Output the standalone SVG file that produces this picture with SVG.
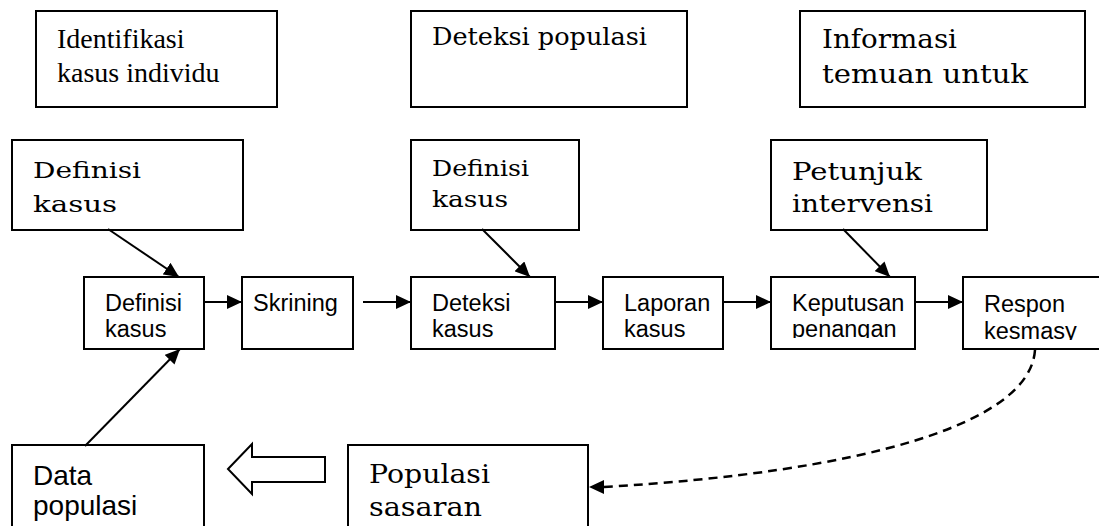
<svg xmlns="http://www.w3.org/2000/svg" width="1099" height="526" viewBox="0 0 1099 526">
  <style>
    .box { fill: #fff; stroke: #000; stroke-width: 2; }
    .serif { font-family: "DejaVu Serif", "Liberation Serif", serif; fill: #000; }
    .times { font-family: "Liberation Serif", "Times New Roman", serif; font-size: 28px; fill: #000; }
    .sans { font-family: "Liberation Sans", Arial, sans-serif; font-size: 23.5px; fill: #000; }
    .big { font-family: "Liberation Sans", Arial, sans-serif; font-size: 28px; fill: #000; }
    .link { fill: none; stroke: #000; stroke-width: 2; }
    .dash { fill: none; stroke: #000; stroke-width: 2.5; stroke-dasharray: 9 6; }
  </style>
  <defs>
    <marker id="head" viewBox="0 0 15 14" refX="15" refY="7" markerWidth="15" markerHeight="14" markerUnits="userSpaceOnUse" orient="auto">
      <path d="M0,0 L15,7 L0,14 Z" fill="#000"/>
    </marker>
    <clipPath id="clip-keputusan"><rect x="771" y="277" width="144" height="61"/></clipPath>
    <clipPath id="clip-respon"><rect x="963" y="277" width="136" height="63"/></clipPath>
    <clipPath id="clip-defmid"><rect x="411" y="140" width="168" height="72"/></clipPath>
  </defs>

  <!-- upper row: headings -->
  <g id="identifikasi">
    <rect class="box" x="36" y="11" width="241" height="96"/>
    <text class="times" x="57" y="48">Identifikasi</text>
    <text class="times" x="57" y="82">kasus individu</text>
  </g>
  <g id="deteksi-populasi">
    <rect class="box" x="411" y="11" width="276" height="96"/>
    <text class="serif" font-size="24" x="432" y="45" textLength="215" lengthAdjust="spacingAndGlyphs">Deteksi populasi</text>
  </g>
  <g id="informasi">
    <rect class="box" x="800" y="11" width="285" height="96"/>
    <text class="serif" font-size="26" x="822" y="48" textLength="135" lengthAdjust="spacingAndGlyphs">Informasi</text>
    <text class="serif" font-size="26" x="822" y="83" textLength="206" lengthAdjust="spacingAndGlyphs">temuan untuk</text>
  </g>

  <!-- second row: inputs -->
  <g id="definisi-atas">
    <rect class="box" x="12" y="140" width="231" height="90"/>
    <text class="serif" font-size="23" x="33" y="178" textLength="108" lengthAdjust="spacingAndGlyphs">Definisi</text>
    <text class="serif" font-size="23" x="33" y="212" textLength="84" lengthAdjust="spacingAndGlyphs">kasus</text>
  </g>
  <g id="definisi-tengah">
    <rect class="box" x="411" y="140" width="168" height="90"/>
    <g clip-path="url(#clip-defmid)">
      <text class="serif" font-size="23" x="432" y="176" textLength="97" lengthAdjust="spacingAndGlyphs">Definisi</text>
      <text class="serif" font-size="23" x="432" y="207" textLength="76" lengthAdjust="spacingAndGlyphs">kasus</text>
    </g>
  </g>
  <g id="petunjuk">
    <rect class="box" x="771" y="140" width="216" height="90"/>
    <text class="serif" font-size="24" x="792" y="180" textLength="130" lengthAdjust="spacingAndGlyphs">Petunjuk</text>
    <text class="serif" font-size="24" x="792" y="212" textLength="141" lengthAdjust="spacingAndGlyphs">intervensi</text>
  </g>

  <!-- process chain -->
  <g id="definisi-kasus">
    <rect class="box" x="84" y="277" width="120" height="72"/>
    <text class="sans" x="105" y="311">Definisi</text>
    <text class="sans" x="105" y="337">kasus</text>
  </g>
  <g id="skrining">
    <rect class="box" x="242" y="277" width="111" height="72"/>
    <text class="sans" x="253" y="311">Skrining</text>
  </g>
  <g id="deteksi-kasus">
    <rect class="box" x="411" y="277" width="144" height="72"/>
    <text class="sans" x="432" y="311">Deteksi</text>
    <text class="sans" x="432" y="337">kasus</text>
  </g>
  <g id="laporan-kasus">
    <rect class="box" x="603" y="277" width="120" height="72"/>
    <text class="sans" x="624" y="311">Laporan</text>
    <text class="sans" x="624" y="337">kasus</text>
  </g>
  <g id="keputusan">
    <rect class="box" x="771" y="277" width="144" height="72"/>
    <g clip-path="url(#clip-keputusan)">
      <text class="sans" x="792" y="311">Keputusan</text>
      <text class="sans" x="792" y="337">penangan</text>
    </g>
  </g>
  <g id="respon">
    <rect class="box" x="963" y="277" width="140" height="72"/>
    <g clip-path="url(#clip-respon)">
      <text class="sans" x="984" y="312">Respon</text>
      <text class="sans" x="984" y="339">kesmasy</text>
    </g>
  </g>

  <!-- bottom row -->
  <g id="data-populasi">
    <rect class="box" x="12" y="445" width="192" height="90"/>
    <text class="big" x="33" y="485">Data</text>
    <text class="big" x="33" y="515">populasi</text>
  </g>
  <g id="populasi-sasaran">
    <rect class="box" x="348" y="445" width="240" height="90"/>
    <text class="serif" font-size="26" x="369" y="483" textLength="121" lengthAdjust="spacingAndGlyphs">Populasi</text>
    <text class="serif" font-size="26" x="369" y="516" textLength="113" lengthAdjust="spacingAndGlyphs">sasaran</text>
  </g>

  <g id="connectors">
    <line class="link" x1="108" y1="229" x2="179" y2="277" marker-end="url(#head)"/>
    <line class="link" x1="482" y1="229" x2="530" y2="277" marker-end="url(#head)"/>
    <line class="link" x1="843" y1="229" x2="890" y2="277" marker-end="url(#head)"/>
    <line class="link" x1="85" y1="446" x2="180" y2="349" marker-end="url(#head)"/>
    <line class="link" x1="204" y1="302" x2="242" y2="302" marker-end="url(#head)"/>
    <line class="link" x1="363" y1="302" x2="411" y2="302" marker-end="url(#head)"/>
    <line class="link" x1="555" y1="302" x2="603" y2="302" marker-end="url(#head)"/>
    <line class="link" x1="723" y1="302" x2="771" y2="302" marker-end="url(#head)"/>
    <line class="link" x1="915" y1="302" x2="963" y2="302" marker-end="url(#head)"/>
    <path class="dash" d="M1035,350 C1030,425 860,472 604,487"/>
    <path d="M589,487 L604,480 L604,494 Z" fill="#000"/>
    <path class="box" stroke-width="1.5" d="M228,469 L252,444 L252,457 L325,457 L325,482 L252,482 L252,494 Z"/>
  </g>
</svg>
